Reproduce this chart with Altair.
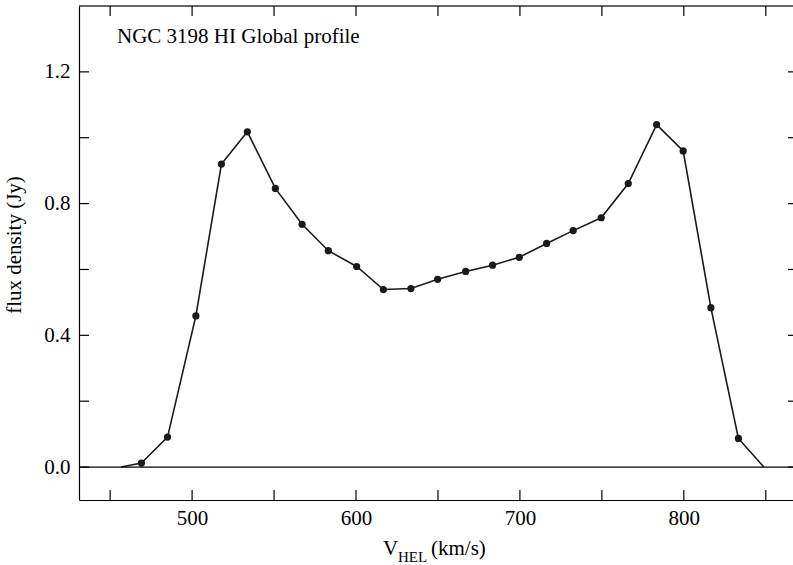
import altair as alt
import pandas as pd

# ---- data ----
vel = [456.7, 469.1, 485.0, 502.3, 517.9, 533.7, 550.8, 567.1, 583.1, 600.4,
       616.7, 633.5, 649.8, 666.9, 683.3, 699.6, 716.3, 732.5, 749.6, 766.1,
       783.4, 799.6, 816.5, 833.3, 848.8]
flux = [0.0, 0.012, 0.091, 0.459, 0.920, 1.018, 0.846, 0.737, 0.657, 0.609,
        0.539, 0.542, 0.570, 0.594, 0.613, 0.637, 0.679, 0.718, 0.757, 0.861,
        1.040, 0.960, 0.484, 0.087, 0.0]
marker = [False] + [True] * 23 + [False]

x_tick_labels = [500, 600, 700, 800]
y_tick_labels = [0.0, 0.4, 0.8, 1.2]
x_minor = [450, 500, 550, 600, 650, 700, 750, 800, 850]
y_minor = [0.0, 0.2, 0.4, 0.6, 0.8, 1.0, 1.2]

title_text = "NGC 3198 HI Global profile"
y_title = "flux density (Jy)"

FONT = "Liberation Serif"
W, H = 714, 494
INK = "#1a1a1a"

df = pd.DataFrame({"v": vel, "f": flux, "m": marker})
xt = pd.DataFrame({"v": x_minor})
yt = pd.DataFrame({"f": y_minor})

xs = alt.Scale(domain=[431, 866.6], nice=False, zero=False)
ys = alt.Scale(domain=[-0.1, 1.4], nice=False, zero=False)

x_axis = alt.Axis(values=x_tick_labels, format="d", ticks=False, grid=False,
                  labelPadding=7, domainColor="black", domainWidth=1.2,
                  labelFont=FONT, labelFontSize=21, labelColor="black",
                  title=None)
y_axis = alt.Axis(values=y_tick_labels, format=".1f", ticks=False, grid=False,
                  labelPadding=9, domainColor="black", domainWidth=1.2,
                  labelFont=FONT, labelFontSize=21, labelColor="black",
                  title=None)

X = alt.X("v:Q", scale=xs, axis=x_axis)
Y = alt.Y("f:Q", scale=ys, axis=y_axis)

line = alt.Chart(df).mark_line(color=INK, strokeWidth=1.6).encode(x=X, y=Y)
pts = alt.Chart(df).transform_filter("datum.m").mark_circle(
    color=INK, opacity=1, size=52).encode(x=X, y=Y)
zero = alt.Chart(pd.DataFrame({"f": [0.0]})).mark_rule(color="black", strokeWidth=1.2).encode(
    y=Y, x=alt.value(0), x2=alt.value(W))
top_border = alt.Chart(pd.DataFrame({"f": [1.4]})).mark_rule(color="#333", strokeWidth=1.5).encode(
    y=Y, x=alt.value(0), x2=alt.value(W))

bt = alt.Chart(xt).mark_rule(color="black", strokeWidth=1.2).encode(
    x=X, y=alt.value(H), y2=alt.value(H - 10))
tt = alt.Chart(xt).mark_rule(color="black", strokeWidth=1.2).encode(
    x=X, y=alt.value(0), y2=alt.value(10))
lt = alt.Chart(yt).mark_rule(color="black", strokeWidth=1.2).encode(
    y=Y, x=alt.value(0), x2=alt.value(10))
rt = alt.Chart(yt).mark_rule(color="black", strokeWidth=1.2).encode(
    y=Y, x=alt.value(W - 5), x2=alt.value(W))

def label(txt, x, y, size=21, align="left", baseline="alphabetic", angle=0):
    return alt.Chart(pd.DataFrame({"t": [txt]})).mark_text(
        font=FONT, fontSize=size, color="black", align=align,
        baseline=baseline, angle=angle).encode(
        text="t:N", x=alt.value(x), y=alt.value(y))

t_title = label(title_text, 38, 36.5)
t_y = label(y_title, -64, 239, align="center", baseline="middle", angle=270)
t_v = label("V", 304, 549)
t_hel = label("HEL", 319, 555.5, size=15)
t_unit = label("(km/s)", 352, 549)

chart = alt.layer(
    line, pts, zero, top_border, bt, tt, lt, rt,
    t_title, t_y, t_v, t_hel, t_unit,
).properties(
    width=W, height=H,
    background="white",
    padding={"left": 79, "top": 6, "right": 0, "bottom": 65},
    autosize=alt.AutoSizeParams(type="none"),
).configure_view(stroke=None)

chart.save("out.html", embed_options={"renderer": "svg", "actions": False})
